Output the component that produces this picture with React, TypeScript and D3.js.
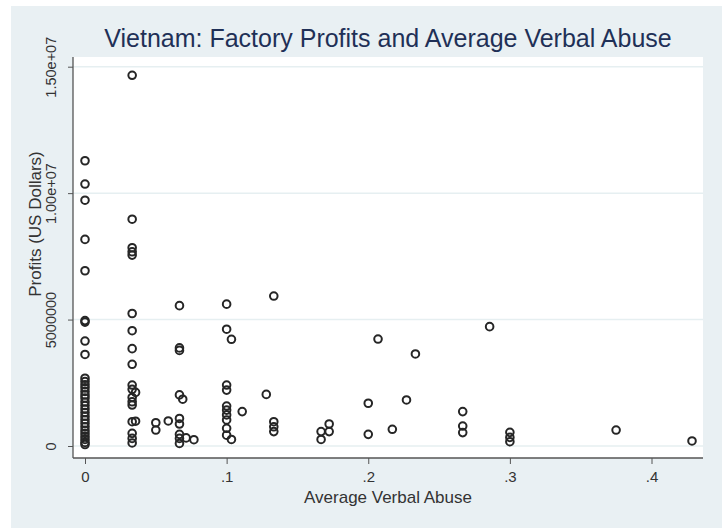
import React, { useEffect, useRef } from 'react';
import * as d3 from 'd3';

// Average verbal abuse (x) and profits in millions of US dollars (y), one entry per factory
const abuse = [
  0, 0, 0, 0, 0, 0, 0, 0, 0,
  0, 0, 0, 0, 0, 0, 0, 0, 0, 0, 0, 0, 0, 0, 0, 0, 0, 0, 0, 0, 0,
  0.0333, 0.0333, 0.0333, 0.0333, 0.0333, 0.0333, 0.0333, 0.0333, 0.0333, 0.0333,
  0.0333, 0.0333, 0.0333, 0.0333, 0.0333, 0.0333, 0.0333, 0.0333, 0.0357, 0.0357,
  0.05, 0.05, 0.0588,
  0.0667, 0.0667, 0.0667, 0.0667, 0.0667, 0.0667, 0.0667, 0.0667, 0.0667, 0.069,
  0.0714, 0.0769,
  0.1, 0.1, 0.1, 0.1, 0.1, 0.1, 0.1, 0.1, 0.1, 0.1,
  0.1034, 0.1034, 0.111, 0.128,
  0.1333, 0.1333, 0.1333, 0.1333,
  0.1667, 0.1667, 0.1724, 0.1724,
  0.2, 0.2, 0.2069, 0.217, 0.227, 0.2333,
  0.2667, 0.2667, 0.2667, 0.2857,
  0.3, 0.3, 0.3, 0.375, 0.4286,
];

const profits = [
  11.28, 10.36, 9.72, 8.17, 6.93, 4.96, 4.9, 4.15, 3.62,
  2.68, 2.55, 2.42, 2.3, 2.16, 2.02, 1.9, 1.74, 1.6, 1.46, 1.32, 1.18, 1.04, 0.9, 0.76, 0.62, 0.5, 0.38, 0.26, 0.14, 0.06,
  14.66, 8.97, 7.84, 7.68, 7.55, 5.24, 4.56, 3.85, 3.23, 2.41,
  2.24, 1.92, 1.75, 1.62, 0.96, 0.5, 0.3, 0.12, 2.12, 0.98,
  0.92, 0.63, 0.99,
  5.55, 3.88, 3.78, 2.02, 1.09, 0.87, 0.46, 0.3, 0.1, 1.85,
  0.32, 0.25,
  5.61, 4.62, 2.41, 2.21, 1.58, 1.42, 1.23, 1.03, 0.7, 0.43,
  4.22, 0.26, 1.36, 2.04,
  5.93, 0.96, 0.76, 0.57,
  0.57, 0.26, 0.87, 0.57,
  1.69, 0.46, 4.23, 0.66, 1.82, 3.64,
  1.36, 0.79, 0.53, 4.72,
  0.54, 0.34, 0.17, 0.63, 0.2,
];

const xTicks = [0, 0.1, 0.2, 0.3, 0.4];
const xTickLabels = ['0', '.1', '.2', '.3', '.4'];
const yTicks = [0, 5000000, 10000000, 15000000];
const yTickLabels = ['0', '5000000', '1.00e+07', '1.50e+07'];

const width = 722;
const height = 528;
const plot = { left: 73, right: 703, top: 57, bottom: 458 };
const font = "'Liberation Sans', Arial, Helvetica, sans-serif";

const App: React.FC = () => {
  const svgRef = useRef<SVGSVGElement>(null);

  useEffect(() => {
    if (!svgRef.current) return;
    const svg = d3.select(svgRef.current);
    svg.selectAll('*').remove();

    const x = d3.scaleLinear().domain([0, 0.4]).range([85, 651.5]);
    const y = d3.scaleLinear().domain([0, 15000000]).range([446, 66.7]);

    // graph region and plot region
    svg.append('rect').attr('width', width).attr('height', height).attr('fill', '#ffffff');
    svg.append('rect')
      .attr('x', 11).attr('y', 6)
      .attr('width', width - 11).attr('height', height - 6)
      .attr('fill', '#e9f0f3');
    svg.append('rect')
      .attr('x', plot.left).attr('y', plot.top)
      .attr('width', plot.right - plot.left).attr('height', plot.bottom - plot.top)
      .attr('fill', '#ffffff');

    // gridlines
    svg.append('g').selectAll('line')
      .data(yTicks)
      .enter().append('line')
      .attr('x1', plot.left).attr('x2', plot.right)
      .attr('y1', d => y(d)).attr('y2', d => y(d))
      .attr('stroke', '#e6eff1')
      .attr('stroke-width', 1.5);

    // y axis
    const yAxis = svg.append('g')
      .attr('transform', `translate(${plot.left},0)`)
      .call(d3.axisLeft(y).tickValues(yTicks).tickSize(5)
        .tickFormat((_, i) => yTickLabels[i]));
    yAxis.select('.domain').remove();
    yAxis.selectAll('line').attr('stroke', '#555');
    yAxis.selectAll('text')
      .attr('transform', 'rotate(-90)')
      .attr('x', 0).attr('y', -17).attr('dy', null)
      .attr('text-anchor', 'middle')
      .attr('fill', '#333')
      .attr('font-family', font)
      .attr('font-size', 14.5);

    // x axis
    const xAxis = svg.append('g')
      .attr('transform', `translate(0,${plot.bottom})`)
      .call(d3.axisBottom(x).tickValues(xTicks).tickSize(6)
        .tickFormat((_, i) => xTickLabels[i]));
    xAxis.select('.domain').remove();
    xAxis.selectAll('line').attr('stroke', '#555');
    xAxis.selectAll('text')
      .attr('y', 24).attr('dy', null)
      .attr('fill', '#333')
      .attr('font-family', font)
      .attr('font-size', 15);

    // axis lines over full plot region
    svg.append('line')
      .attr('x1', plot.left).attr('x2', plot.left)
      .attr('y1', plot.top).attr('y2', plot.bottom)
      .attr('stroke', '#555').attr('stroke-width', 1.3);
    svg.append('line')
      .attr('x1', plot.left).attr('x2', plot.right)
      .attr('y1', plot.bottom).attr('y2', plot.bottom)
      .attr('stroke', '#555').attr('stroke-width', 1.3);

    // hollow markers
    svg.append('g').selectAll('circle')
      .data(abuse.map((a, i) => ({ a, p: profits[i] * 1000000 })))
      .enter().append('circle')
      .attr('cx', d => x(d.a))
      .attr('cy', d => y(d.p))
      .attr('r', 3.8)
      .attr('fill', 'none')
      .attr('stroke', '#262626')
      .attr('stroke-width', 2);

    // titles
    svg.append('text')
      .attr('x', (plot.left + plot.right) / 2)
      .attr('y', 47)
      .attr('text-anchor', 'middle')
      .attr('fill', '#1f3057')
      .attr('font-family', font)
      .attr('font-size', 25)
      .text('Vietnam: Factory Profits and Average Verbal Abuse');

    svg.append('text')
      .attr('x', (plot.left + plot.right) / 2)
      .attr('y', 503)
      .attr('text-anchor', 'middle')
      .attr('fill', '#333')
      .attr('font-family', font)
      .attr('font-size', 17)
      .text('Average Verbal Abuse');

    svg.append('text')
      .attr('transform', `translate(41,224) rotate(-90)`)
      .attr('text-anchor', 'middle')
      .attr('fill', '#333')
      .attr('font-family', font)
      .attr('font-size', 17)
      .text('Profits (US Dollars)');
  }, []);

  return (
    <svg
      ref={svgRef}
      width={width}
      height={height}
      viewBox={`0 0 ${width} ${height}`}
      style={{ position: 'absolute', left: 0, top: 0 }}
    />
  );
};

export default App;
